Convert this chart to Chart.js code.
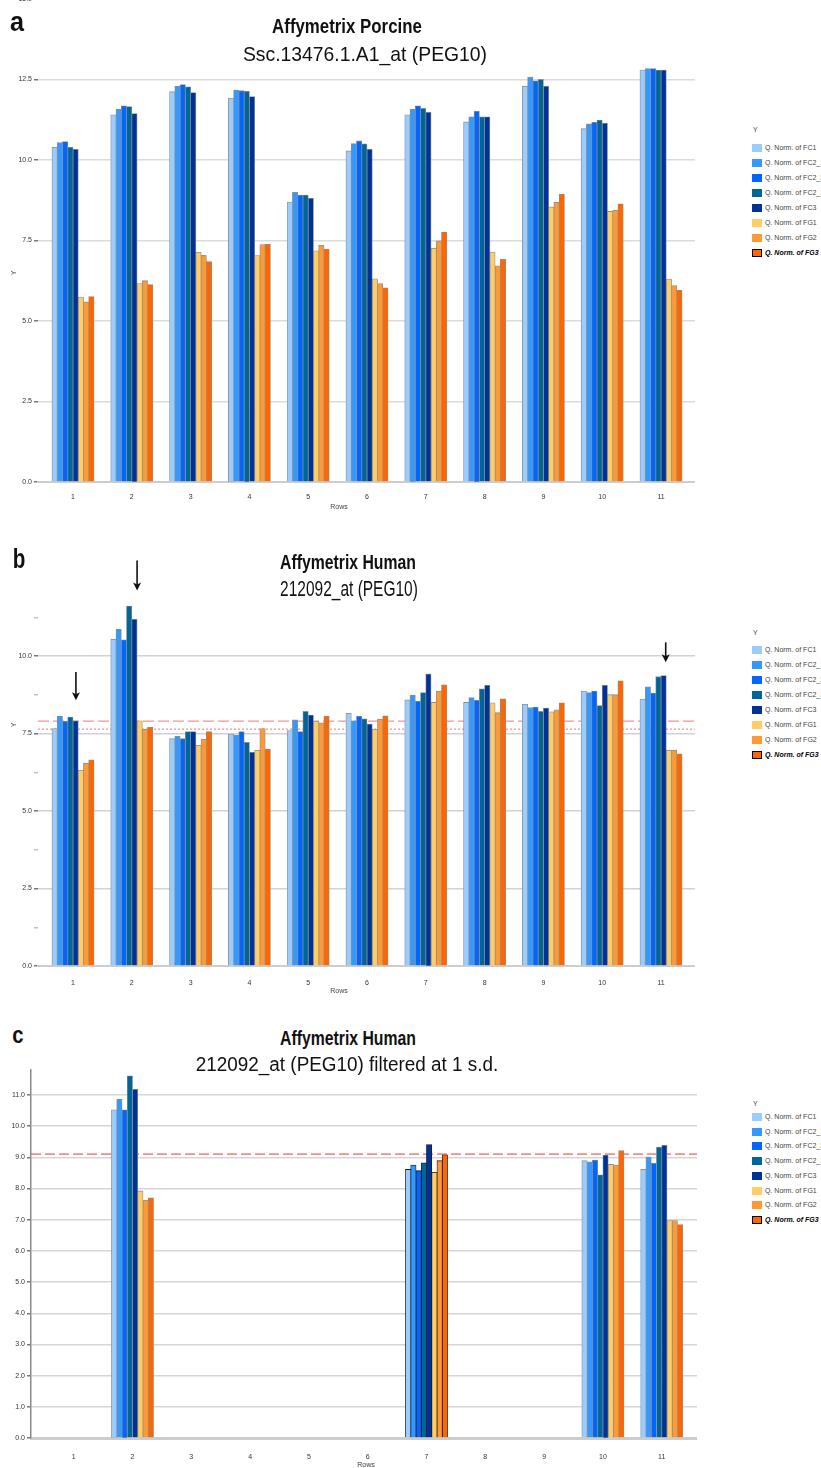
<!DOCTYPE html>
<html>
<head>
<meta charset="utf-8">
<script src="https://cdn.jsdelivr.net/npm/chart.js@4.4.1/dist/chart.umd.min.js"></script>
<style>
html,body{margin:0;padding:0;background:#fff;}
body{width:821px;height:1468px;overflow:hidden;position:relative;font-family:"Liberation Sans",Arial,sans-serif;}
.box{position:absolute;left:0;}
.t{position:absolute;white-space:nowrap;line-height:1;color:#111;}
.small{position:absolute;white-space:nowrap;line-height:1;font-size:7px;color:#444;}
.sw{position:absolute;width:10px;height:8px;box-sizing:border-box;}
</style>
</head>
<body>
<div class="box" id="boxA" style="top:-9px;width:695px;height:513px;"><canvas id="chartA"></canvas></div>
<div class="box" id="boxB" style="top:550px;width:695px;height:438px;"><canvas id="chartB"></canvas></div>
<div class="box" id="boxC" style="top:1060px;width:697px;height:400px;"><canvas id="chartC"></canvas></div>
<div id="overlay"></div>
<script>
// ---------- DATA ----------
const categories = [1, 2, 3, 4, 5, 6, 7, 8, 9, 10, 11];
const seriesNames = ['Q. Norm. of FC1', 'Q. Norm. of FC2_1', 'Q. Norm. of FC2_2', 'Q. Norm. of FC2_3',
                     'Q. Norm. of FC3', 'Q. Norm. of FG1', 'Q. Norm. of FG2', 'Q. Norm. of FG3'];

// Panel a: Affymetrix Porcine Ssc.13476.1.A1_at (PEG10)
const aFC1  = [10.39, 11.40, 12.12, 11.92, 8.69, 10.28, 11.40, 11.18, 12.29, 10.97, 12.79];
const aFC2_1= [10.54, 11.57, 12.29, 12.17, 8.99, 10.51, 11.58, 11.34, 12.57, 11.12, 12.84];
const aFC2_2= [10.57, 11.68, 12.34, 12.15, 8.91, 10.59, 11.68, 11.51, 12.46, 11.17, 12.84];
const aFC2_3= [10.39, 11.66, 12.27, 12.13, 8.91, 10.50, 11.60, 11.34, 12.50, 11.24, 12.79];
const aFC3  = [10.33, 11.44, 12.09, 11.97, 8.81, 10.33, 11.48, 11.34, 12.29, 11.14, 12.79];
const aFG1  = [5.74, 6.16, 7.13, 7.03, 7.18, 6.31, 7.26, 7.14, 8.54, 8.40, 6.30];
const aFG2  = [5.59, 6.25, 7.04, 7.37, 7.35, 6.16, 7.49, 6.71, 8.68, 8.44, 6.10];
const aFG3  = [5.76, 6.13, 6.84, 7.38, 7.23, 6.03, 7.76, 6.91, 8.93, 8.64, 5.95];
const aTicks = [0, 2.5, 5, 7.5, 10, 12.5, 15];

// Panel b: Affymetrix Human 212092_at (PEG10)
const bFC1  = [7.66, 10.54, 7.33, 7.48, 7.59, 8.15, 8.58, 8.50, 8.44, 8.87, 8.61];
const bFC2_1= [8.05, 10.86, 7.41, 7.45, 7.94, 7.91, 8.73, 8.66, 8.33, 8.82, 9.00];
const bFC2_2= [7.89, 10.52, 7.33, 7.56, 7.56, 8.05, 8.54, 8.57, 8.35, 8.87, 8.80];
const bFC2_3= [8.03, 11.61, 7.56, 7.21, 8.21, 7.97, 8.82, 8.94, 8.21, 8.40, 9.33];
const bFC3  = [7.91, 11.18, 7.56, 6.89, 8.09, 7.80, 9.42, 9.05, 8.32, 9.05, 9.37];
const bFG1  = [6.31, 7.91, 7.12, 6.96, 7.89, 7.63, 8.50, 8.49, 8.20, 8.75, 6.96];
const bFG2  = [6.54, 7.63, 7.31, 7.66, 7.84, 7.96, 8.87, 8.17, 8.26, 8.75, 6.96];
const bFG3  = [6.65, 7.70, 7.56, 6.99, 8.05, 8.07, 9.07, 8.62, 8.49, 9.20, 6.84];
const bTicks = [0, 1.25, 2.5, 3.75, 5, 6.25, 7.5, 8.75, 10, 11.25];
const bLabelledTicks = [0, 2.5, 5, 7.5, 10];
const bRefDashed = 7.90;
const bRefDotted = 7.64;
const bArrowRows  = [1.05, 2.09, 11.08];
const bArrowTips  = [8.57, 12.11, 9.80];
const bArrowTails = [9.48, 13.08, 10.44];

// Panel c: filtered at 1 s.d.
const cFC1  = [0, 10.52, 0, 0, 0, 0, 8.61, 0, 0, 8.89, 8.61];
const cFC2_1= [0, 10.86, 0, 0, 0, 0, 8.75, 0, 0, 8.85, 9.01];
const cFC2_2= [0, 10.52, 0, 0, 0, 0, 8.57, 0, 0, 8.91, 8.81];
const cFC2_3= [0, 11.61, 0, 0, 0, 0, 8.82, 0, 0, 8.44, 9.33];
const cFC3  = [0, 11.18, 0, 0, 0, 0, 9.41, 0, 0, 9.07, 9.38];
const cFG1  = [0, 7.92, 0, 0, 0, 0, 8.52, 0, 0, 8.77, 6.97];
const cFG2  = [0, 7.62, 0, 0, 0, 0, 8.89, 0, 0, 8.75, 6.97];
const cFG3  = [0, 7.70, 0, 0, 0, 0, 9.08, 0, 0, 9.21, 6.84];
const cTicks = [0, 1, 2, 3, 4, 5, 6, 7, 8, 9, 10, 11];
const cRefDashed = 9.10;
const cSelectedRow = 7;

// ---------- STYLE ----------
const seriesColors = ['#99ccff', '#3399ff', '#0066ff', '#006699', '#003399', '#ffcc66', '#ff9933', '#ff6600'];
const FONT = '"Liberation Sans", Arial, sans-serif';
const BAR_BORDER = '#8f8f8f';
Chart.defaults.font.family = FONT;
Chart.defaults.animation = false;

function datasets(arrs, borderFn) {
  return arrs.map((d, i) => ({
    label: seriesNames[i],
    data: d,
    backgroundColor: seriesColors[i],
    borderColor: borderFn || BAR_BORDER,
    borderWidth: 0.8,
    inflateAmount: 0.4,
    barPercentage: 1.0,
    categoryPercentage: 0.714
  }));
}

function xAxis(min, max, pad) {
  return {
    type: 'linear', min: min, max: max, offset: false,
    grid: { display: false, offset: false },
    border: { display: true, color: '#cdcdcd', width: 2 },
    afterBuildTicks: s => { s.ticks = categories.map(v => ({ value: v })); },
    afterFit: s => { s.height = 22; },
    ticks: { padding: pad, font: { size: 7 }, color: '#333', autoSkip: false, maxRotation: 0,
             callback: v => String(v) }
  };
}

const refLinePlugin = {
  id: 'refLines',
  beforeDatasetsDraw(chart, args, opts) {
    const lines = opts.lines || [];
    const { ctx, chartArea } = chart;
    const y = chart.scales.y;
    lines.forEach(l => {
      const py = y.getPixelForValue(l.value);
      ctx.save();
      ctx.strokeStyle = l.color;
      ctx.lineWidth = l.width;
      ctx.setLineDash(l.dash);
      ctx.beginPath();
      ctx.moveTo(chartArea.left, py);
      ctx.lineTo(chartArea.right, py);
      ctx.stroke();
      ctx.restore();
    });
  }
};

const arrowPlugin = {
  id: 'arrows',
  afterDraw(chart, args, opts) {
    const rows = opts.rows || [];
    if (!rows.length) return;
    const { ctx } = chart;
    const xs = chart.scales.x, ys = chart.scales.y;
    rows.forEach((r, i) => {
      const px = xs.getPixelForValue(r);
      const tip = ys.getPixelForValue(opts.tips[i]);
      const tail = ys.getPixelForValue(opts.tails[i]);
      ctx.save();
      ctx.strokeStyle = '#111';
      ctx.fillStyle = '#111';
      ctx.lineWidth = 1.6;
      ctx.beginPath();
      ctx.moveTo(px, tail);
      ctx.lineTo(px, tip - 4);
      ctx.stroke();
      ctx.beginPath();
      ctx.moveTo(px, tip);
      ctx.lineTo(px - 4, tip - 8);
      ctx.lineTo(px, tip - 6);
      ctx.lineTo(px + 4, tip - 8);
      ctx.closePath();
      ctx.fill();
      ctx.restore();
    });
  }
};

// ---------- PANEL A ----------
new Chart(document.getElementById('chartA'), {
  type: 'bar',
  data: { labels: categories, datasets: datasets([aFC1, aFC2_1, aFC2_2, aFC2_3, aFC3, aFG1, aFG2, aFG3]) },
  options: {
    responsive: true, maintainAspectRatio: false,
    layout: { padding: { top: 8, right: 0, left: 0, bottom: 0 } },
    plugins: { legend: { display: false }, tooltip: { enabled: false } },
    scales: {
      x: xAxis(0.405, 11.578, 3),
      y: {
        min: 0, max: 15,
        afterBuildTicks: s => { s.ticks = aTicks.map(v => ({ value: v })); },
        afterFit: s => { s.width = 38; },
        grid: { color: '#dcdcdc', lineWidth: 1.5, tickLength: 4, tickColor: '#777' },
        border: { display: false },
        ticks: { padding: 2, font: { size: 7 }, color: '#333', callback: v => v.toFixed(1) }
      }
    }
  }
});

// ---------- PANEL B ----------
new Chart(document.getElementById('chartB'), {
  type: 'bar',
  data: { labels: categories, datasets: datasets([bFC1, bFC2_1, bFC2_2, bFC2_3, bFC3, bFG1, bFG2, bFG3]) },
  options: {
    responsive: true, maintainAspectRatio: false,
    layout: { padding: { top: 44, right: 0, left: 0, bottom: 0 } },
    plugins: {
      legend: { display: false }, tooltip: { enabled: false },
      refLines: { lines: [
        { value: bRefDashed, color: 'rgba(236,130,130,0.85)', width: 1.3, dash: [11, 4] },
        { value: bRefDotted, color: 'rgba(236,130,130,0.85)', width: 1.3, dash: [2, 2] }
      ] },
      arrows: { rows: bArrowRows, tips: bArrowTips, tails: bArrowTails }
    },
    scales: {
      x: xAxis(0.405, 11.578, 5),
      y: {
        min: 0, max: 12,
        afterBuildTicks: s => { s.ticks = bTicks.map(v => ({ value: v })); },
        afterFit: s => { s.width = 38; },
        grid: {
          color: c => bLabelledTicks.includes(c.tick.value) ? '#d2d2d2' : 'rgba(0,0,0,0)',
          lineWidth: 1.5, tickLength: 4,
          tickColor: c => bLabelledTicks.includes(c.tick.value) ? '#777' : 'rgba(120,120,120,0.45)'
        },
        border: { display: false },
        ticks: { padding: 2, font: { size: 7 }, color: '#333',
                 callback: v => bLabelledTicks.includes(v) ? v.toFixed(1) : '' }
      }
    }
  },
  plugins: [refLinePlugin, arrowPlugin]
});

// ---------- PANEL C ----------
new Chart(document.getElementById('chartC'), {
  type: 'bar',
  data: { labels: categories, datasets: datasets([cFC1, cFC2_1, cFC2_2, cFC2_3, cFC3, cFG1, cFG2, cFG3],
          c => categories[c.dataIndex] === cSelectedRow ? '#1a1a1a' : BAR_BORDER) },
  options: {
    responsive: true, maintainAspectRatio: false,
    layout: { padding: { top: 10, right: 0, left: 0, bottom: 0 } },
    plugins: {
      legend: { display: false }, tooltip: { enabled: false },
      refLines: { lines: [
        { value: cRefDashed, color: 'rgba(240,120,120,0.85)', width: 1.8, dash: [10, 4] }
      ] }
    },
    scales: {
      x: Object.assign(xAxis(0.274, 11.60, 7), { border: { display: true, color: '#cccccc', width: 3 } }),
      y: {
        min: 0, max: 11.8,
        afterBuildTicks: s => { s.ticks = cTicks.map(v => ({ value: v })); },
        afterFit: s => { s.width = 31; },
        grid: { color: '#d6d6d6', lineWidth: 1.5, tickLength: 4, tickColor: '#777' },
        border: { display: true, color: '#8a8a8a', width: 1.5 },
        ticks: { padding: 2, font: { size: 7 }, color: '#333', callback: v => v.toFixed(1) }
      }
    }
  },
  plugins: [refLinePlugin]
});

// ---------- TEXT OVERLAYS ----------
const overlay = document.getElementById('overlay');
function addText(txt, x, y, size, bold, width) {
  const el = document.createElement('div');
  el.className = 't';
  el.textContent = txt;
  el.style.left = x + 'px';
  el.style.top = y + 'px';
  el.style.fontSize = size + 'px';
  el.style.fontWeight = bold ? 'bold' : 'normal';
  overlay.appendChild(el);
  const s = width / el.offsetWidth;
  el.style.transform = 'translate(-50%,-50%) scaleX(' + s.toFixed(3) + ')';
}
addText('a', 17, 22.3, 27, true, 14);
addText('Affymetrix Porcine', 347, 24.6, 21, true, 150);
addText('Ssc.13476.1.A1_at (PEG10)', 365, 52.5, 21, false, 244);
addText('b', 18.5, 558.5, 27, true, 13);
addText('Affymetrix Human', 348, 560.5, 21, true, 136);
addText('212092_at (PEG10)', 349, 588.5, 22, false, 138);
addText('c', 17.5, 1034.5, 24, true, 11);
addText('Affymetrix Human', 348, 1036.5, 21, true, 136);
addText('212092_at (PEG10) filtered at 1 s.d.', 347, 1064, 20, false, 302);

function addSmall(txt, x, y, rotate) {
  const el = document.createElement('div');
  el.className = 'small';
  el.textContent = txt;
  el.style.left = x + 'px';
  el.style.top = y + 'px';
  el.style.transform = 'translate(-50%,-50%)' + (rotate ? ' rotate(-90deg)' : '');
  overlay.appendChild(el);
}
addSmall('Rows', 339, 505.5);
addSmall('Rows', 339, 990);
addSmall('Rows', 366, 1464);
addSmall('Y', 13, 273, true);
addSmall('Y', 13, 725, true);

function addLegend(headerY, firstY, step) {
  const hdr = document.createElement('div');
  hdr.className = 'small';
  hdr.textContent = 'Y';
  hdr.style.left = '753px';
  hdr.style.top = (headerY - 4) + 'px';
  overlay.appendChild(hdr);
  seriesNames.forEach((name, i) => {
    const cy = firstY + i * step;
    const sw = document.createElement('div');
    sw.className = 'sw';
    sw.style.left = '752px';
    sw.style.top = (cy - 4) + 'px';
    sw.style.background = seriesColors[i];
    const last = i === seriesNames.length - 1;
    if (last) sw.style.border = '1px solid #000';
    overlay.appendChild(sw);
    const tx = document.createElement('div');
    tx.className = 'small';
    tx.textContent = name;
    tx.style.left = '765px';
    tx.style.top = (cy - 4) + 'px';
    if (last) { tx.style.fontWeight = 'bold'; tx.style.fontStyle = 'italic'; tx.style.color = '#000'; }
    overlay.appendChild(tx);
  });
}
addLegend(130, 147.7, 15);
addLegend(633, 650, 15.05);
addLegend(1104, 1117, 14.7);
</script>
</body>
</html>
